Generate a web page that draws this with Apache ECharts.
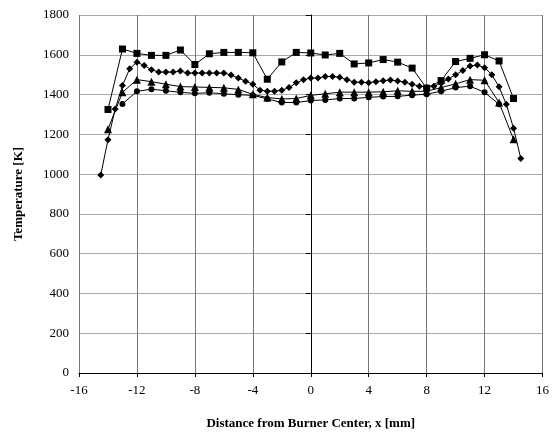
<!DOCTYPE html>
<html>
<head>
<meta charset="UTF-8">
<title>Temperature profile</title>
<script src="https://cdn.jsdelivr.net/npm/echarts@6/dist/echarts.min.js"></script>
<style>
  html, body { margin: 0; padding: 0; background: #fff; }
  #main { width: 552px; height: 435px; }
</style>
</head>
<body>
<div id="main"></div>
<script>
// squares
var sqX = [-14,-13,-12,-11,-10,-9,-8,-7,-6,-5,-4,-3,-2,-1,0,1,2,3,4,5,6,7,8,9,10,11,12,13,14];
var sqY = [1325,1629,1607,1597,1597,1624,1551,1605,1612,1612,1610,1477,1564,1612,1609,1599,1607,1554,1559,1576,1563,1533,1432,1470,1566,1582,1600,1569,1380];

// diamonds (every 0.5 mm)
var dmX = [-14.5,-14,-13.5,-13,-12.5,-12,-11.5,-11,-10.5,-10,-9.5,-9,-8.5,-8,-7.5,-7,-6.5,-6,-5.5,-5,-4.5,-4,-3.5,-3,-2.5,-2,-1.5,-1,-0.5,0,
            0.5,1,1.5,2,2.5,3,3.5,4,4.5,5,5.5,6,6.5,7,7.5,8,8.5,9,9.5,10,10.5,11,11.5,12,12.5,13,13.5,14,14.5];
var dmY = [995,1173,1327,1445,1530,1563,1546,1525,1513,1513,1513,1518,1508,1508,1508,1508,1508,1508,1498,1483,1467,1452,1422,1417,1417,1422,1435,1459,1475,1483,
           1483,1491,1491,1487,1475,1462,1462,1459,1465,1470,1473,1468,1462,1452,1442,1437,1442,1457,1478,1500,1521,1544,1548,1535,1500,1439,1351,1231,1079];

// triangles
var trX = [-14,-13,-12,-11,-10,-9,-8,-7,-6,-5,-4,-3,-2,-1,0,1,2,3,4,5,6,7,8,9,10,11,12,13,14];
var trY = [1226,1411,1475,1465,1452,1440,1438,1436,1434,1426,1401,1385,1378,1380,1396,1404,1412,1412,1412,1414,1419,1416,1417,1435,1454,1475,1472,1360,1175];

// circles
var ciX = [-13,-12,-11,-10,-9,-8,-7,-6,-5,-4,-3,-2,-1,0,1,2,3,4,5,6,7,8,9,10,11,12,13];
var ciY = [1353,1416,1427,1419,1411,1406,1409,1404,1399,1396,1378,1360,1360,1370,1373,1380,1380,1386,1390,1391,1397,1402,1417,1435,1442,1411,1351];

function pairs(xs, ys) {
    return xs.map(function (x, i) { return [x, ys[i]]; });
}

function line(name, xs, ys, symbol, size) {
    return {
        name: name,
        type: 'line',
        data: pairs(xs, ys),
        symbol: symbol,
        symbolSize: size,
        showSymbol: true,
        lineStyle: { color: '#000', width: 1 },
        itemStyle: { color: '#000' },
        animation: false
    };
}

var serif = '"Liberation Serif", "DejaVu Serif", serif';
var chart = echarts.init(document.getElementById('main'));

var option = {
    backgroundColor: '#fff',
    grid: { left: 79, right: 8, top: 15, bottom: 57 },
    xAxis: {
        type: 'value',
        min: -16, max: 16, interval: 4,
        name: 'Distance from Burner Center, x [mm]',
        nameLocation: 'middle',
        nameGap: 44,
        nameTextStyle: { fontFamily: serif, fontWeight: 'bold', fontSize: 13, color: '#000' },
        axisLine: { lineStyle: { color: '#000', width: 1 } },
        axisTick: { show: true, length: 4, lineStyle: { color: '#000' } },
        axisLabel: { fontFamily: serif, fontSize: 13, color: '#000', margin: 11 },
        splitLine: { show: true, lineStyle: { color: '#777', width: 1 } }
    },
    yAxis: {
        type: 'value',
        min: 0, max: 1800, interval: 200,
        name: 'Temperature [K]',
        nameLocation: 'middle',
        nameGap: 54,
        nameTextStyle: { fontFamily: serif, fontWeight: 'bold', fontSize: 13, color: '#000' },
        axisLine: { show: true, lineStyle: { color: '#000', width: 1 } },
        axisTick: { show: true, length: 5, lineStyle: { color: '#000' } },
        axisLabel: { fontFamily: serif, fontSize: 13, color: '#000', margin: 10,
                     formatter: function (v) { return String(v); } },
        splitLine: { show: true, lineStyle: { color: '#aaa', width: 1 } }
    },
    series: [
        line('squares', sqX, sqY, 'rect', 7),
        line('diamonds', dmX, dmY, 'diamond', 7),
        line('triangles', trX, trY, 'triangle', 8),
        line('circles', ciX, ciY, 'circle', 6)
    ]
};
chart.setOption(option, true);
</script>
</body>
</html>
